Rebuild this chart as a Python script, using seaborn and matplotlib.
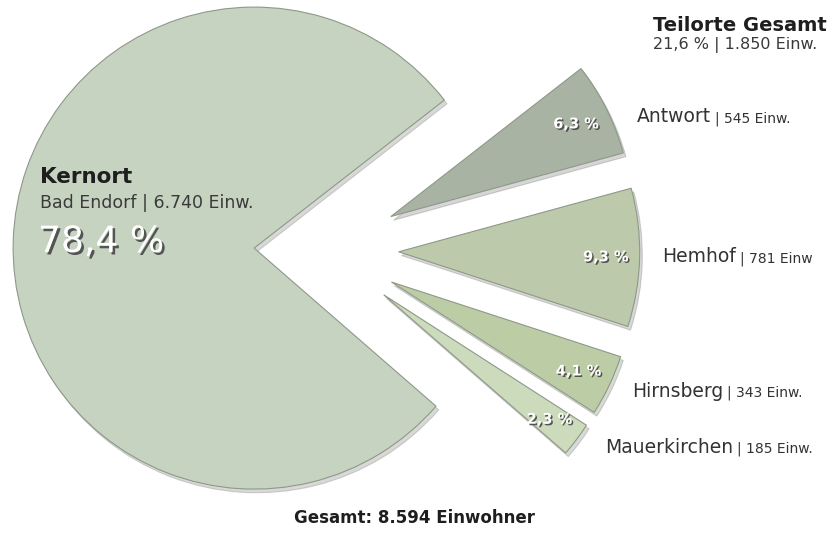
import matplotlib
matplotlib.use("Agg")
import matplotlib.pyplot as plt
import matplotlib.patheffects as pe
import seaborn as sns

# Daten
orte = ["Kernort", "Antwort", "Hemhof", "Hirnsberg", "Mauerkirchen"]
anteile = [78.4, 6.3, 9.3, 4.1, 2.3]
einwohner = [6740, 545, 781, 343, 185]
einheit = ["Einw.", "Einw.", "Einw", "Einw.", "Einw."]
kernort_name = "Bad Endorf"
teilorte_anteil = 21.6
teilorte_einwohner = 1850

farben = ["#c7d3c1", "#a9b3a3", "#bccaab", "#bccda6", "#cddbbd"]


def de_zahl(n):
    return f"{n:,}".replace(",", ".")


def de_pct(p):
    return f"{p:.1f}".replace(".", ",") + " %"


sns.set_style("white")
plt.rcParams["font.family"] = ["DejaVu Sans"]

W, H = 833, 555
fig = plt.figure(figsize=(W / 100, H / 100), dpi=100)
ax = fig.add_axes([0, 0, 1, 1])

wedges, texts, autotexts = ax.pie(
    anteile,
    colors=farben,
    startangle=-41,
    counterclock=False,
    explode=[0.29, 0.31, 0.31, 0.31, 0.31],
    radius=1,
    autopct="%1.1f",
    pctdistance=0.86,
    wedgeprops=dict(edgecolor="#8e9889", linewidth=0.8),
    shadow=dict(ox=0.008, oy=-0.011, shade=0.6, alpha=0.22),
)

# Pixel-Massstab: Radius ~241 px, Kreismitte bei (324, 250)
r_px, cx, cy = 241, 324, 250
ax.set_xlim(-cx / r_px, (W - cx) / r_px)
ax.set_ylim(-(H - cy) / r_px, cy / r_px)
ax.set_aspect("equal")
ax.axis("off")

schatten = [pe.withSimplePatchShadow(offset=(1.1, -1.1), shadow_rgbFace="#3f3f3f", alpha=0.85)]

for i, t in enumerate(autotexts):
    if i == 0:
        t.set_text("")
        continue
    t.set_text(de_pct(anteile[i]))
    t.set_color("white")
    t.set_fontsize(10.5)
    t.set_fontweight("bold")
    t.set_path_effects(schatten)


def fx(x):
    return x / W


def fy(y):
    return 1 - y / H


# Kernort
fig.text(fx(40), fy(183), orte[0], fontsize=15.5, fontweight="bold", color="#1e1e1e", va="baseline")
fig.text(fx(40), fy(208), f"{kernort_name} | {de_zahl(einwohner[0])} Einw.",
         fontsize=12.5, color="#3a3a3a", va="baseline")
fig.text(fx(38), fy(252), de_pct(anteile[0]), fontsize=26, color="white", va="baseline",
         path_effects=[pe.withSimplePatchShadow(offset=(1.8, -1.8), shadow_rgbFace="#3f3f3f", alpha=0.85)])

# Teilorte gesamt
fig.text(fx(653), fy(31), "Teilorte Gesamt", fontsize=14, fontweight="bold", color="#1e1e1e", va="baseline")
fig.text(fx(653), fy(49), f"{de_pct(teilorte_anteil)} | {de_zahl(teilorte_einwohner)} Einw.",
         fontsize=11.5, color="#3a3a3a", va="baseline")

# Beschriftung der Teilorte
label_pos = [(637, 122), (662, 262), (632, 397), (605, 453)]
for i, (x, y) in enumerate(label_pos, start=1):
    t = fig.text(fx(x), fy(y), orte[i], fontsize=13.5, color="#333333", va="baseline")
    ax.annotate(f"| {de_zahl(einwohner[i])} {einheit[i]}", xy=(1, fy(y)),
                xycoords=(t, "figure fraction"), xytext=(3, 0), textcoords="offset points",
                fontsize=10, color="#333333", va="baseline", annotation_clip=False)

fig.text(fx(415), fy(523), f"Gesamt: {de_zahl(sum(einwohner))} Einwohner",
         fontsize=12, fontweight="bold", color="#1e1e1e", ha="center", va="baseline")

fig.savefig("out.png", dpi=100, facecolor="white")
